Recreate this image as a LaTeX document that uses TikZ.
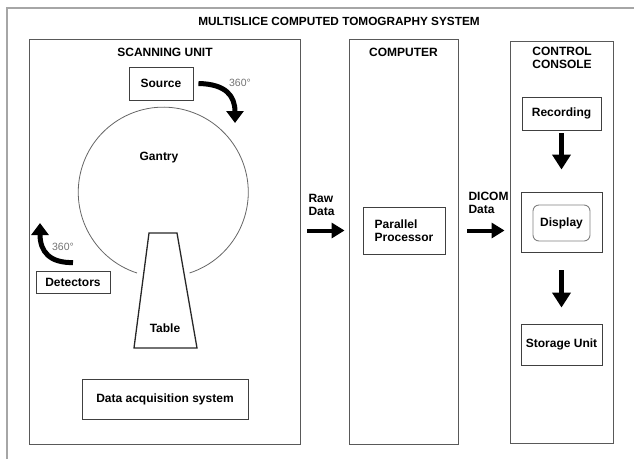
\documentclass[tikz,border=0pt]{standalone}
\usepackage{fontspec}
\setmainfont{Liberation Sans}
\usetikzlibrary{arrows.meta}

\begin{document}
\begin{tikzpicture}[x=1pt, y=-1pt,
    font=\fontsize{12}{13}\selectfont\bfseries,
    box/.style={draw=black!75, line width=0.9pt, inner sep=0pt, align=center},
    panel/.style={draw=black!65, line width=0.9pt, inner sep=0pt},
    deg/.style={font=\fontsize{10.5}{12}\selectfont, text=black!55},
    dataarrow/.style={line width=4pt, -{Triangle[length=13pt,width=15pt]}},
    downarrow/.style={line width=4.5pt, -{Triangle[length=15pt,width=18pt]}},
    turnarrow/.style={line width=5pt, -{Triangle[length=12pt,width=17pt]}}]

      \useasboundingbox (0,0) rectangle (634,459);
      \draw[black!35, line width=1.2pt] (7,459) -- (7,8) -- (634,8);

      % Panels
      \node[panel, minimum width=271pt, minimum height=405pt] (scan) at (164.5,241.5) {};
      \node[panel, minimum width=109pt, minimum height=405pt] (comp) at (403.5,241.5) {};
      \node[panel, minimum width=103pt, minimum height=402pt] (console) at (561.5,242) {};

      \node[font=\fontsize{11.8}{13}\selectfont\bfseries] (title) at (339,21) {MULTISLICE COMPUTED TOMOGRAPHY SYSTEM};
      \node (scanlbl) at (165,52) {SCANNING UNIT};
      \node (complbl) at (403.5,52) {COMPUTER};
      \node[align=center] (conslbl) at (562,58) {CONTROL\\CONSOLE};

      % Scanning unit
      \node[box, minimum width=64pt, minimum height=33pt] (source) at (161,83.5) {Source};
      \node[box, minimum width=74pt, minimum height=22pt] (detectors) at (73,282) {Detectors};
      \node[box, minimum width=166pt, minimum height=40pt] (daq) at (165,399) {Data acquisition system};
      \node (gantry) at (159,158) {Gantry};
      \node (table) at (165,328) {Table};
      \node[deg] (srcdeg) at (240,83) {360°};
      \node[deg] (detdeg) at (63,247) {360°};
      \coordinate (srcturn) at (235,123);
      \coordinate (detturn) at (40,223);

      \draw[black!60, line width=0.8pt] (137,273) arc[start angle=108, end angle=432, radius=85];
      \draw[black!85, line width=1.3pt] (149,233) -- (177,233) -- (197,348) -- (134,348) -- cycle;

      % Computer and console
      \node[box, minimum width=82pt, minimum height=47pt, align=left] (proc) at (404,230.5) {Parallel\\Processor};
      \node[box, minimum width=79pt, minimum height=33pt] (rec) at (561.5,113.5) {Recording};
      \node[box, minimum width=81pt, minimum height=60pt] (dispbox) at (561.5,222) {};
      \node[box, draw=black!50, rounded corners=6pt, minimum width=57pt, minimum height=36pt] (disp) at (561.5,223) {Display};
      \node[box, minimum width=81pt, minimum height=41pt] (store) at (561.5,344.5) {Storage Unit};

      \node[anchor=west, align=left] (rawlbl) at (305,205) {Raw\\Data};
      \node[anchor=west, align=left] (dicomlbl) at (465,203) {DICOM\\Data};

      % Edges
      \draw[turnarrow] ([xshift=5pt]source.east) .. controls (226,84) and (235,96) .. (srcturn);
      \draw[turnarrow] ([yshift=8pt]detectors.north) .. controls (50,263) and (40,252) .. (detturn);
      \draw[dataarrow, shorten <=7pt, shorten >=18pt] (scan.east |- proc.west) -- (proc.west);
      \draw[dataarrow, shorten <=22pt, shorten >=16pt] (proc.east) -- (proc.east -| dispbox.west);
      \draw[downarrow, shorten <=3pt, shorten >=22pt] (rec.south) -- (dispbox.north);
      \draw[downarrow, shorten <=18pt, shorten >=16pt] (dispbox.south) -- (store.north);
    \end{tikzpicture}
\end{document}
